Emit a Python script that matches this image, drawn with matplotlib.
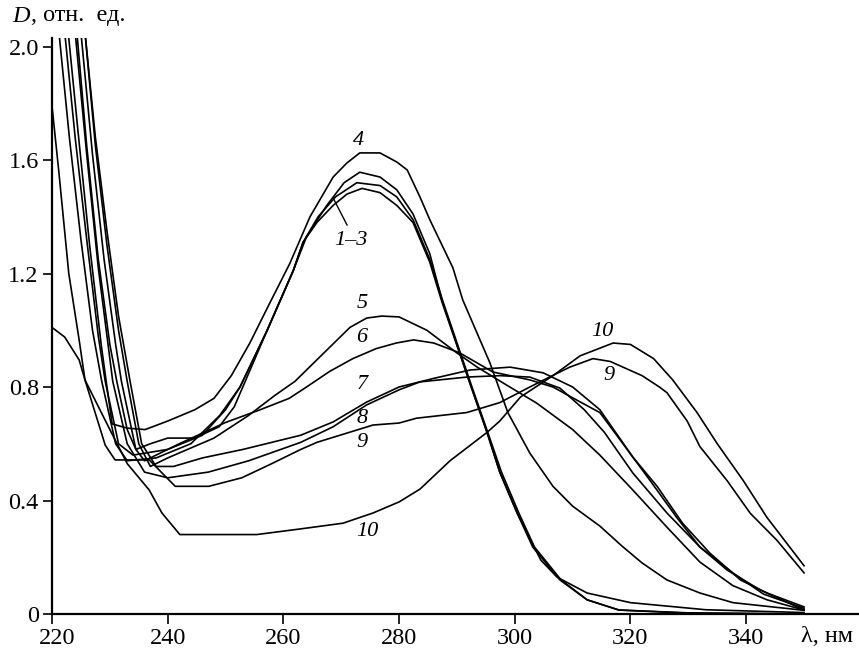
import matplotlib
matplotlib.use("Agg")
import matplotlib.pyplot as plt
import matplotlib.transforms as mtransforms

# ---- data (wavelength nm, optical density) ----
wl1 = [224.3, 226.0, 228.0, 230.0, 231.2, 233.0, 234.5, 237.0, 240.0, 244.7, 248.9, 251.5, 253.4, 257.2, 261.7, 264.0, 267.5, 270.5, 273.2, 276.7, 279.6, 282.4, 285.3, 287.4, 292.3, 295.2, 297.4, 300.4, 303.0, 304.5, 307.3, 312.5, 320.0, 333.0, 350.0]
d1 = [2.05, 1.65, 1.25, 0.95, 0.82, 0.65, 0.58, 0.60, 0.62, 0.62, 0.66, 0.73, 0.82, 1.00, 1.21, 1.33, 1.44, 1.52, 1.557, 1.54, 1.495, 1.41, 1.27, 1.107, 0.81, 0.64, 0.50, 0.356, 0.25, 0.19, 0.13, 0.074, 0.04, 0.015, 0.005]

wl2 = [222.2, 224.0, 226.0, 228.0, 229.2, 231.5, 234.0, 240.0, 246.0, 250.0, 252.5, 257.2, 261.7, 263.4, 266.0, 269.0, 272.7, 276.7, 279.6, 282.4, 285.3, 287.6, 292.6, 295.5, 297.7, 300.7, 303.4, 308.0, 312.5, 318.0, 330.0, 350.0]
d2 = [2.05, 1.68, 1.32, 0.98, 0.82, 0.60, 0.56, 0.58, 0.63, 0.72, 0.80, 1.00, 1.21, 1.31, 1.40, 1.47, 1.52, 1.51, 1.47, 1.39, 1.25, 1.10, 0.80, 0.63, 0.50, 0.356, 0.236, 0.12, 0.05, 0.014, 0.003, 0.0]

wl3 = [221.2, 223.0, 225.0, 227.0, 228.6, 231.0, 233.0, 238.0, 244.0, 249.0, 252.5, 257.2, 261.7, 263.4, 265.8, 268.6, 271.0, 273.6, 276.7, 279.6, 282.4, 285.3, 287.4, 292.3, 295.2, 297.4, 300.4, 303.1, 307.8, 312.5, 318.0, 330.0, 350.0]
d3 = [2.05, 1.68, 1.32, 1.00, 0.82, 0.60, 0.54, 0.55, 0.60, 0.70, 0.80, 1.00, 1.21, 1.31, 1.38, 1.44, 1.48, 1.50, 1.485, 1.44, 1.38, 1.24, 1.10, 0.81, 0.64, 0.50, 0.356, 0.236, 0.12, 0.05, 0.014, 0.004, 0.0]

wl4 = [222.8, 224.5, 226.5, 228.5, 229.5, 230.4, 233.0, 236.1, 240.0, 244.7, 248.0, 251.0, 254.2, 257.5, 261.1, 264.6, 268.6, 271.0, 273.2, 276.7, 279.6, 281.4, 283.6, 285.3, 289.3, 291.0, 295.7, 298.8, 302.6, 306.6, 310.0, 314.7, 318.5, 322.0, 326.3, 332.0, 337.7, 350.0]
d4 = [2.05, 1.70, 1.30, 0.95, 0.80, 0.67, 0.655, 0.65, 0.68, 0.72, 0.76, 0.84, 0.955, 1.09, 1.235, 1.40, 1.54, 1.59, 1.625, 1.625, 1.593, 1.565, 1.47, 1.39, 1.22, 1.107, 0.885, 0.71, 0.567, 0.45, 0.38, 0.31, 0.24, 0.18, 0.12, 0.074, 0.04, 0.013]

wl5 = [225.7, 227.5, 229.5, 231.5, 233.0, 235.0, 237.0, 240.0, 248.0, 254.0, 258.5, 262.0, 265.0, 268.5, 271.5, 274.4, 277.0, 280.0, 284.8, 290.0, 293.5, 298.0, 303.8, 310.0, 314.7, 320.4, 326.3, 332.0, 337.7, 343.6, 350.0]
d5 = [2.05, 1.65, 1.30, 1.00, 0.82, 0.60, 0.52, 0.55, 0.62, 0.70, 0.77, 0.82, 0.88, 0.95, 1.01, 1.043, 1.05, 1.047, 1.00, 0.92, 0.87, 0.814, 0.743, 0.65, 0.56, 0.437, 0.306, 0.183, 0.10, 0.05, 0.014]

wl6 = [225.0, 227.0, 229.0, 231.0, 232.0, 234.5, 236.0, 242.0, 250.0, 256.0, 261.0, 264.0, 268.0, 272.0, 276.0, 279.5, 282.5, 286.0, 290.5, 296.2, 302.6, 306.6, 310.7, 314.7, 319.9, 323.4, 328.0, 332.0, 337.7, 343.0, 350.0]
d6 = [2.05, 1.62, 1.25, 0.95, 0.82, 0.58, 0.54, 0.60, 0.675, 0.72, 0.76, 0.80, 0.855, 0.90, 0.935, 0.955, 0.966, 0.955, 0.92, 0.853, 0.825, 0.80, 0.754, 0.71, 0.567, 0.47, 0.34, 0.236, 0.145, 0.07, 0.02]

wl7 = [225.7, 227.5, 229.5, 231.5, 233.5, 235.5, 238.0, 241.0, 246.0, 253.0, 263.0, 268.6, 274.4, 280.0, 285.9, 292.3, 299.2, 304.9, 310.0, 314.7, 320.4, 324.6, 329.0, 333.7, 339.0, 343.6, 350.0]
d7 = [2.05, 1.68, 1.35, 1.05, 0.82, 0.60, 0.52, 0.52, 0.55, 0.58, 0.63, 0.677, 0.747, 0.80, 0.83, 0.86, 0.87, 0.85, 0.80, 0.72, 0.553, 0.45, 0.32, 0.215, 0.12, 0.074, 0.025]

wl8 = [224.0, 226.0, 228.0, 229.5, 230.5, 233.0, 236.0, 240.0, 247.0, 254.0, 263.0, 268.6, 274.4, 280.0, 283.6, 291.7, 297.4, 302.6, 307.8, 312.0, 315.5, 320.4, 326.3, 332.0, 336.7, 342.4, 350.0]
d8 = [2.05, 1.62, 1.22, 0.98, 0.82, 0.60, 0.50, 0.48, 0.50, 0.54, 0.605, 0.66, 0.737, 0.79, 0.818, 0.835, 0.84, 0.835, 0.796, 0.72, 0.64, 0.497, 0.356, 0.236, 0.155, 0.085, 0.014]

wl9 = [220.0, 221.2, 222.9, 224.7, 225.7, 229.2, 230.9, 233.8, 236.8, 241.3, 247.1, 252.8, 258.0, 263.0, 265.8, 275.5, 280.0, 283.0, 291.7, 297.4, 302.6, 306.0, 309.5, 313.5, 316.5, 322.0, 325.0, 326.3, 329.8, 332.0, 336.7, 340.7, 345.3, 350.0]
d9 = [1.79, 1.555, 1.20, 0.965, 0.825, 0.595, 0.543, 0.543, 0.543, 0.45, 0.45, 0.48, 0.53, 0.58, 0.605, 0.666, 0.673, 0.69, 0.71, 0.745, 0.80, 0.835, 0.87, 0.90, 0.89, 0.84, 0.80, 0.78, 0.68, 0.59, 0.47, 0.355, 0.26, 0.145]

wl10 = [220.0, 222.2, 224.7, 225.7, 230.0, 233.0, 236.8, 239.0, 242.1, 255.4, 263.0, 270.3, 275.5, 280.0, 283.6, 288.8, 295.2, 297.4, 301.0, 306.6, 311.3, 317.0, 320.0, 324.0, 327.3, 331.5, 335.0, 339.5, 343.6, 350.0]
d10 = [1.01, 0.976, 0.895, 0.825, 0.65, 0.53, 0.437, 0.356, 0.28, 0.28, 0.30, 0.32, 0.356, 0.395, 0.44, 0.54, 0.64, 0.68, 0.765, 0.84, 0.91, 0.955, 0.95, 0.90, 0.825, 0.71, 0.60, 0.47, 0.34, 0.17]

curve_wl = [wl1, wl2, wl3, wl4, wl5, wl6, wl7, wl8, wl9, wl10]
curve_d = [d1, d2, d3, d4, d5, d6, d7, d8, d9, d10]

x_ticks = [220, 240, 260, 280, 300, 320, 340]
y_ticks = [0, 0.4, 0.8, 1.2, 1.6, 2.0]
y_tick_labels = ["0", "0.4", "0.8", "1.2", "1.6", "2.0"]

curve_labels = ["4", "1–3", "5", "6", "7", "8", "9", "10", "10", "9"]
label_pos = [(272.9, 1.67), (271.7, 1.318), (273.6, 1.096), (273.6, 0.973),
             (273.6, 0.81), (273.6, 0.69), (273.6, 0.603), (274.5, 0.289),
             (315.2, 0.994), (316.3, 0.839)]
leader = ([268.6, 271.0], [1.466, 1.371])

# ---- figure ----
SERIF = ["Liberation Serif", "DejaVu Serif"]
plt.rcParams['font.family'] = SERIF
fig = plt.figure(figsize=(8.59, 6.48), dpi=100)
ax = fig.add_axes([52/859, 34/648, (859-52)/859, (614-38)/648])

for wl, d in zip(curve_wl, curve_d):
    ax.plot(wl, d, color="black", lw=1.2, solid_joinstyle="round")

ax.plot(leader[0], leader[1], color="black", lw=1.0)

for txt, (x, y) in zip(curve_labels, label_pos):
    ax.text(x, y, txt, fontsize=16, style="italic", ha="center", va="center",
            family=SERIF)

ax.set_xlim(220, 359.5)
ax.set_ylim(0, 2.03)
ax.set_xticks(x_ticks)
ax.set_xticklabels([str(t) for t in x_ticks])
ax.set_yticks(y_ticks)
ax.set_yticklabels(y_tick_labels)
ax.tick_params(axis="x", direction="out", length=7.5, width=1.2, pad=2.5, labelsize=17.5)
ax.tick_params(axis="y", direction="out", length=6.5, width=1.2, pad=3, labelsize=17.5)
for s in ["top", "right"]:
    ax.spines[s].set_visible(False)
for s in ["left", "bottom"]:
    ax.spines[s].set_linewidth(1.6)

# shift the first x label a bit right (as in the reference)
lbl0 = ax.get_xticklabels()[0]
lbl0.set_transform(lbl0.get_transform() + mtransforms.ScaledTranslation(5/100, 0, fig.dpi_scale_trans))

fig.text(12/859, 1 - 16/648, "D", fontsize=17.5, style="italic", ha="left", va="center", family=SERIF)
fig.text(31/859, 1 - 16/648, ", отн.  ед.", fontsize=17.5, ha="left", va="center", family=SERIF)
fig.text(801/859, 1 - 637/648, "λ, нм", fontsize=17.5, ha="left", va="center", family=SERIF)

fig.savefig("out.png", dpi=100)
